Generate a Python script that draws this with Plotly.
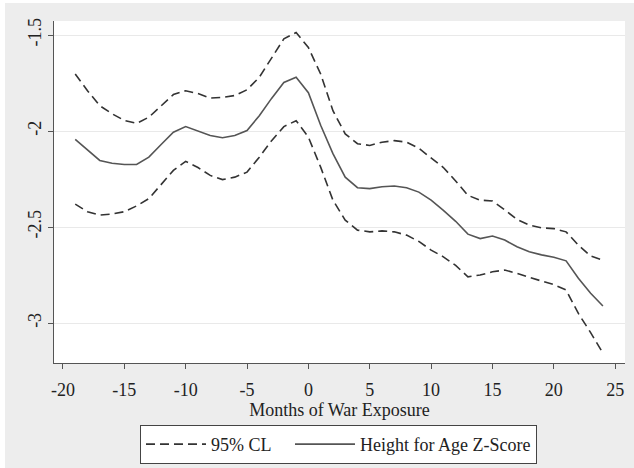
import plotly.graph_objects as go

months = list(range(-19, 25))

hfa_z = [-2.044, -2.10, -2.153, -2.168, -2.174, -2.174, -2.136, -2.07, -2.006, -1.977,
         -2.00, -2.023, -2.035, -2.023, -1.997, -1.92, -1.83, -1.747, -1.72, -1.80,
         -1.97, -2.118, -2.24, -2.295, -2.30, -2.29, -2.286, -2.295, -2.318, -2.36,
         -2.413, -2.47, -2.537, -2.56, -2.547, -2.568, -2.603, -2.629, -2.645, -2.657,
         -2.676, -2.767, -2.845, -2.911]

ci_upper = [-1.703, -1.79, -1.868, -1.91, -1.945, -1.96, -1.928, -1.87, -1.81, -1.79,
            -1.805, -1.828, -1.825, -1.815, -1.785, -1.72, -1.62, -1.52, -1.487, -1.565,
            -1.703, -1.894, -2.015, -2.066, -2.075, -2.058, -2.05, -2.058, -2.09, -2.14,
            -2.19, -2.26, -2.335, -2.36, -2.364, -2.41, -2.461, -2.49, -2.504, -2.508,
            -2.525, -2.594, -2.651, -2.672]

ci_lower = [-2.381, -2.42, -2.438, -2.432, -2.42, -2.39, -2.352, -2.28, -2.205, -2.158,
            -2.19, -2.231, -2.253, -2.24, -2.214, -2.136, -2.05, -1.977, -1.946, -2.032,
            -2.188, -2.36, -2.464, -2.516, -2.525, -2.52, -2.525, -2.542, -2.575, -2.62,
            -2.655, -2.70, -2.759, -2.75, -2.733, -2.724, -2.741, -2.762, -2.78, -2.80,
            -2.828, -2.95, -3.05, -3.156]

x_ticks = [-20, -15, -10, -5, 0, 5, 10, 15, 20, 25]
x_ticktext = ["-20", "-15", "-10", "-5", "0", "5", "10", "15", "20", "25"]
y_ticks = [-3, -2.5, -2, -1.5]
y_ticktext = ["-3", "-2.5", "-2", "-1.5"]

FONT = "Liberation Serif, Times New Roman, serif"
dash_style = "9px,5px"

fig = go.Figure()
fig.add_trace(go.Scatter(x=months, y=ci_upper, mode="lines",
                         name="95% CL\u00a0\u00a0\u00a0",
                         legendgroup="ci",
                         line=dict(color="#333333", width=1.6, dash=dash_style)))
fig.add_trace(go.Scatter(x=months, y=ci_lower, mode="lines", name="95% CL",
                         legendgroup="ci", showlegend=False,
                         line=dict(color="#333333", width=1.6, dash=dash_style)))
fig.add_trace(go.Scatter(x=months, y=hfa_z, mode="lines", name="Height for Age Z-Score",
                         line=dict(color="#555555", width=1.6)))

fig.update_layout(
    width=634, height=468,
    margin=dict(l=54, r=9, t=21, b=105, autoexpand=False),
    paper_bgcolor="#ededed",
    plot_bgcolor="white",
    font=dict(family=FONT, size=18, color="#222222"),
    showlegend=True,
    legend=dict(orientation="h", x=0.1506, xanchor="left", y=-0.181, yanchor="top",
                bgcolor="white", bordercolor="#444444", borderwidth=1,
                itemwidth=60,
                font=dict(family=FONT, size=18, color="#222222"),
                traceorder="normal"),
    shapes=[
        dict(type="rect", xref="paper", yref="paper",
             x0=-0.1, x1=-0.0858, y0=-0.4, y1=1.2,
             fillcolor="white", line=dict(width=0), layer="above"),
        dict(type="rect", xref="paper", yref="paper",
             x0=-0.1, x1=1.1, y0=1.0526, y1=1.2,
             fillcolor="white", line=dict(width=0), layer="above"),
    ],
    xaxis=dict(range=[-20.73, 25.8], tickvals=x_ticks, ticktext=x_ticktext,
               automargin=False,
               showgrid=False, zeroline=False, showline=True, linecolor="#555555",
               linewidth=1.2, ticks="outside", ticklen=5, tickcolor="#555555",
               ticklabelstandoff=5,
               tickfont=dict(family=FONT, size=18, color="#222222"),
               title=dict(text="Months of War Exposure", standoff=3,
                          font=dict(family=FONT, size=18, color="#222222"))),
    yaxis=dict(range=[-3.208, -1.427], tickvals=y_ticks, ticktext=y_ticktext,
               automargin=False,
               showgrid=True, gridcolor="#e9e9e9", gridwidth=1,
               zeroline=False, showline=True, linecolor="#555555", linewidth=1.2,
               ticks="outside", ticklen=5, tickcolor="#555555", tickangle=-90,
               tickfont=dict(family=FONT, size=18, color="#222222")),
)

fig.write_html("out.html",
               config={"displayModeBar": False},
               post_script="document.body.style.margin='0';document.body.style.padding='0';")
